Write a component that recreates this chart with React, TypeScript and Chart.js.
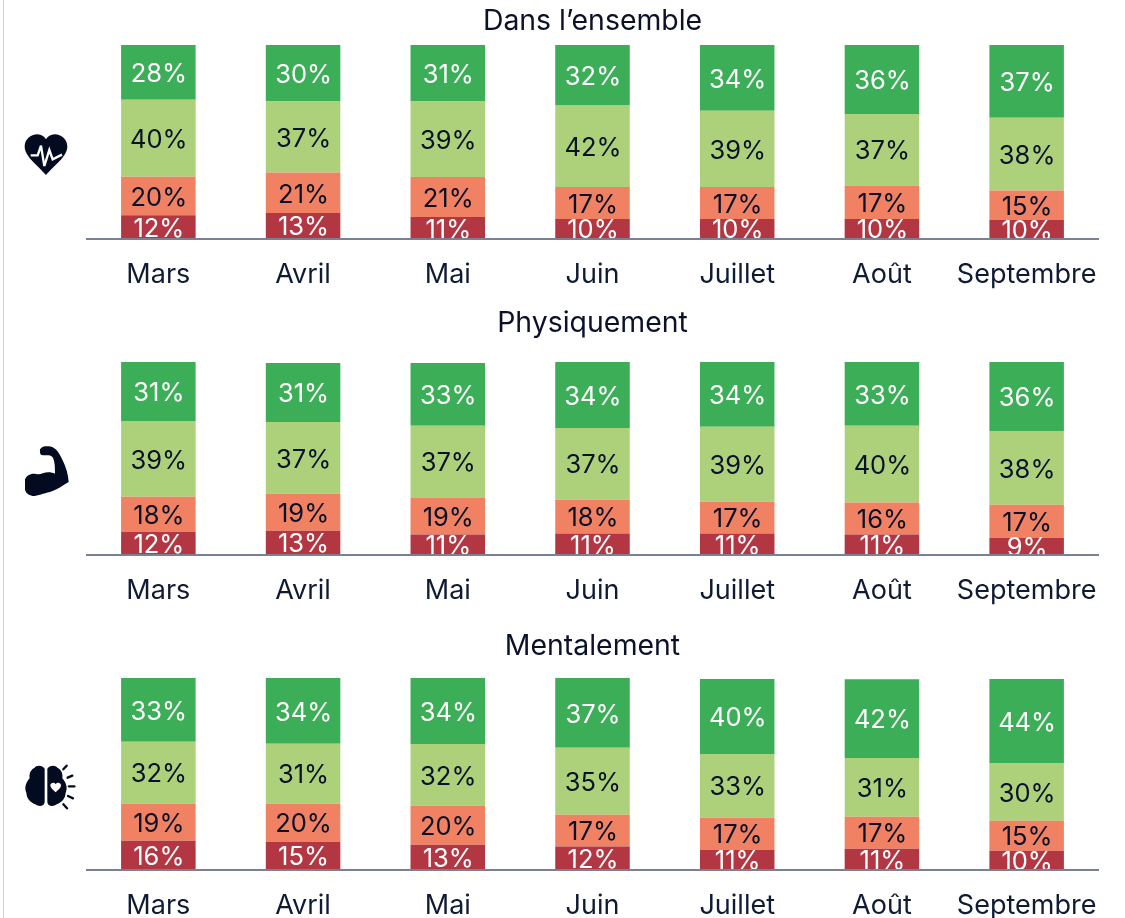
import React, { useEffect, useRef } from "react";
import { Chart, registerables } from "chart.js";

Chart.register(...registerables);

const months = ["Mars", "Avril", "Mai", "Juin", "Juillet", "Août", "Septembre"];
const seriesNames = ["Très mal", "Mal", "Bien", "Très bien"];
const seriesColors = ["#B23743", "#F08263", "#ADD17A", "#3CAE57"];
const textColors = ["#FFFFFF", "#0A1128", "#0A1128", "#FFFFFF"];

// Segment sizes
const overallRed = [12.1, 13.2, 11.1, 10.1, 10.1, 10.1, 9.6];
const overallOrange = [19.9, 20.9, 20.7, 16.5, 16.5, 17.3, 15.2];
const overallLight = [39.8, 36.7, 39.0, 42.4, 39.5, 37.0, 37.7];
const overallGreen = [28.2, 29.4, 29.2, 31.0, 33.9, 35.6, 37.5];

const physicalRed = [11.9, 12.4, 10.4, 10.9, 10.9, 10.4, 8.8];
const physicalOrange = [18.1, 19.2, 19.2, 17.6, 16.6, 16.6, 17.1];
const physicalLight = [39.4, 37.3, 37.3, 37.3, 38.9, 39.9, 38.3];
const physicalGreen = [30.6, 30.6, 32.6, 34.2, 33.6, 33.1, 35.8];

const mentalRed = [15.1, 14.6, 13.0, 12.0, 10.4, 10.9, 9.9];
const mentalOrange = [19.3, 19.8, 20.3, 16.7, 16.7, 16.7, 15.6];
const mentalLight = [32.3, 31.3, 32.3, 34.9, 33.3, 30.7, 30.2];
const mentalGreen = [33.3, 34.3, 34.4, 36.4, 39.1, 41.1, 43.8];

// Printed labels
const overallRedLabels = [12, 13, 11, 10, 10, 10, 10];
const overallOrangeLabels = [20, 21, 21, 17, 17, 17, 15];
const overallLightLabels = [40, 37, 39, 42, 39, 37, 38];
const overallGreenLabels = [28, 30, 31, 32, 34, 36, 37];

const physicalRedLabels = [12, 13, 11, 11, 11, 11, 9];
const physicalOrangeLabels = [18, 19, 19, 18, 17, 16, 17];
const physicalLightLabels = [39, 37, 37, 37, 39, 40, 38];
const physicalGreenLabels = [31, 31, 33, 34, 34, 33, 36];

const mentalRedLabels = [16, 15, 13, 12, 11, 11, 10];
const mentalOrangeLabels = [19, 20, 20, 17, 17, 17, 15];
const mentalLightLabels = [32, 31, 32, 35, 33, 31, 30];
const mentalGreenLabels = [33, 34, 34, 37, 40, 42, 44];

const FONT = "Inter";

const segmentLabels = {
  id: "segmentLabels",
  afterDatasetsDraw(chart: any) {
    const { ctx, chartArea } = chart;
    ctx.save();
    ctx.beginPath();
    ctx.rect(0, chartArea.top - 5, chart.width, chartArea.bottom - chartArea.top + 5);
    ctx.clip();
    ctx.font = `25.5px ${FONT}`;
    ctx.textAlign = "center";
    ctx.textBaseline = "middle";
    chart.data.datasets.forEach((ds: any, i: number) => {
      const meta = chart.getDatasetMeta(i);
      meta.data.forEach((bar: any, j: number) => {
        ctx.fillStyle = textColors[i];
        ctx.fillText(`${ds.printed[j]}%`, bar.x + 0.5, (bar.y + bar.base) / 2 + 2);
      });
    });
    ctx.restore();
  },
};

function Panel(props: { title: string; top: number; height: number; titleGap: number; values: number[][]; labels: number[][] }) {
  const ref = useRef<HTMLCanvasElement>(null);
  useEffect(() => {
    const chart = new Chart(ref.current!, {
      type: "bar",
      plugins: [segmentLabels],
      data: {
        labels: months,
        datasets: props.values.map((v, i) => ({
          label: seriesNames[i],
          data: v,
          printed: props.labels[i],
          backgroundColor: seriesColors[i],
          borderWidth: 0,
          barPercentage: 0.515,
          categoryPercentage: 1,
          stack: "s",
        })) as any,
      },
      options: {
        animation: false,
        responsive: false,
        maintainAspectRatio: false,
        layout: { padding: 0 },
        plugins: {
          legend: { display: false },
          tooltip: { enabled: false },
          title: {
            display: true,
            text: props.title,
            color: "#0A1128",
            font: { family: FONT, size: 28.4, weight: "normal" as any, lineHeight: 1.2 },
            padding: { top: 4, bottom: props.titleGap },
          },
        },
        scales: {
          x: {
            stacked: true,
            afterFit(scale: any) {
              scale.paddingLeft = 0;
              scale.paddingRight = 0;
            },
            grid: { display: false, drawTicks: false },
            border: { display: true, color: "#7A8193", width: 2, z: 1 },
            ticks: {
              color: "#0F1B33",
              font: { family: FONT, size: 27, lineHeight: 1.2 },
              padding: 20,
              maxRotation: 0,
              autoSkip: false,
            },
          },
          y: { stacked: true, display: false, min: 0, max: 100 },
        },
      },
    });
    return () => chart.destroy();
  }, []);
  return (
    <canvas
      ref={ref}
      width={1013}
      height={props.height}
      style={{ position: "absolute", left: 86, top: props.top, width: 1013, height: props.height }}
    />
  );
}

const ICON = "#020B20";

function HeartIcon() {
  return (
    <svg style={{ position: "absolute", left: 0, top: 0 }} width={360} height={300} viewBox="0 0 1080 900">
      <path d="M138 525 C118 500 74 470 74 440 C74 418 92 403 112 403 C124 403 133 410 138 418 C143 410 152 403 164 403 C184 403 202 418 202 440 C202 470 158 500 138 525Z" fill={ICON} />
      <polyline points="92,466 113,466 123,437 133,498 148,450 158,478 186,464" fill="none" stroke="#fff" strokeWidth={7} />
    </svg>
  );
}

function ArmIcon() {
  return (
    <svg style={{ position: "absolute", left: 0, top: 440 }} width={120} height={100} viewBox="0 0 360 300">
      <path d="M120 35 C118 24 128 18 145 19 C165 20 175 35 185 55 C198 80 205 105 206 126 C190 135 170 150 150 156 C130 160 115 168 98 168 C85 166 76 158 75 148 L75 118 C80 105 95 98 108 102 C120 106 130 97 145 97 C152 97 160 99 165 101 C165 85 165 65 158 52 C150 42 135 48 125 45 C121 43 120 39 120 35Z" fill={ICON} />
    </svg>
  );
}

function BrainIcon() {
  return (
    <svg style={{ position: "absolute", left: 0, top: 750 }} width={120} height={80} viewBox="0 0 360 240">
      <path d="M134 56 C128 46 110 44 103 54 C90 60 87 74 89 85 C78 96 72 115 79 128 C80 148 94 158 106 163 C118 172 134 168 134 155Z" fill={ICON} />
      <path d="M142 56 C148 46 166 44 173 54 C186 60 189 74 187 85 C198 96 204 115 197 128 C196 148 182 158 170 163 C158 172 142 168 142 155Z" fill={ICON} />
      <path d="M167 127 C160 120 151 114 151 106 C151 99 162 95 167 103 C172 95 183 99 183 106 C183 114 174 120 167 127Z" fill="#fff" />
      <g stroke={ICON} strokeWidth={7} strokeLinecap="round">
        <line x1={190} y1={58} x2={200} y2={47} />
        <line x1={203} y1={83} x2={217} y2={77} />
        <line x1={207} y1={109} x2={223} y2={109} />
        <line x1={204} y1={138} x2={219} y2={145} />
        <line x1={190} y1={163} x2={201} y2={175} />
      </g>
    </svg>
  );
}

export default function App() {
  return (
    <div style={{ position: "fixed", left: 0, top: 0, width: 1125, height: 918, background: "#fff", overflow: "hidden" }}>
      <div style={{ position: "absolute", left: 3, top: 0, width: 1, height: 918, background: "#CFCFCF" }} />
      <HeartIcon />
      <ArmIcon />
      <BrainIcon />
      <Panel
        title="Dans l’ensemble"
        top={0}
        height={311}
        titleGap={7}
        values={[overallRed, overallOrange, overallLight, overallGreen]}
        labels={[overallRedLabels, overallOrangeLabels, overallLightLabels, overallGreenLabels]}
      />
      <Panel
        title="Physiquement"
        top={302}
        height={325}
        titleGap={22}
        values={[physicalRed, physicalOrange, physicalLight, physicalGreen]}
        labels={[physicalRedLabels, physicalOrangeLabels, physicalLightLabels, physicalGreenLabels]}
      />
      <Panel
        title="Mentalement"
        top={625}
        height={317}
        titleGap={15}
        values={[mentalRed, mentalOrange, mentalLight, mentalGreen]}
        labels={[mentalRedLabels, mentalOrangeLabels, mentalLightLabels, mentalGreenLabels]}
      />
    </div>
  );
}
